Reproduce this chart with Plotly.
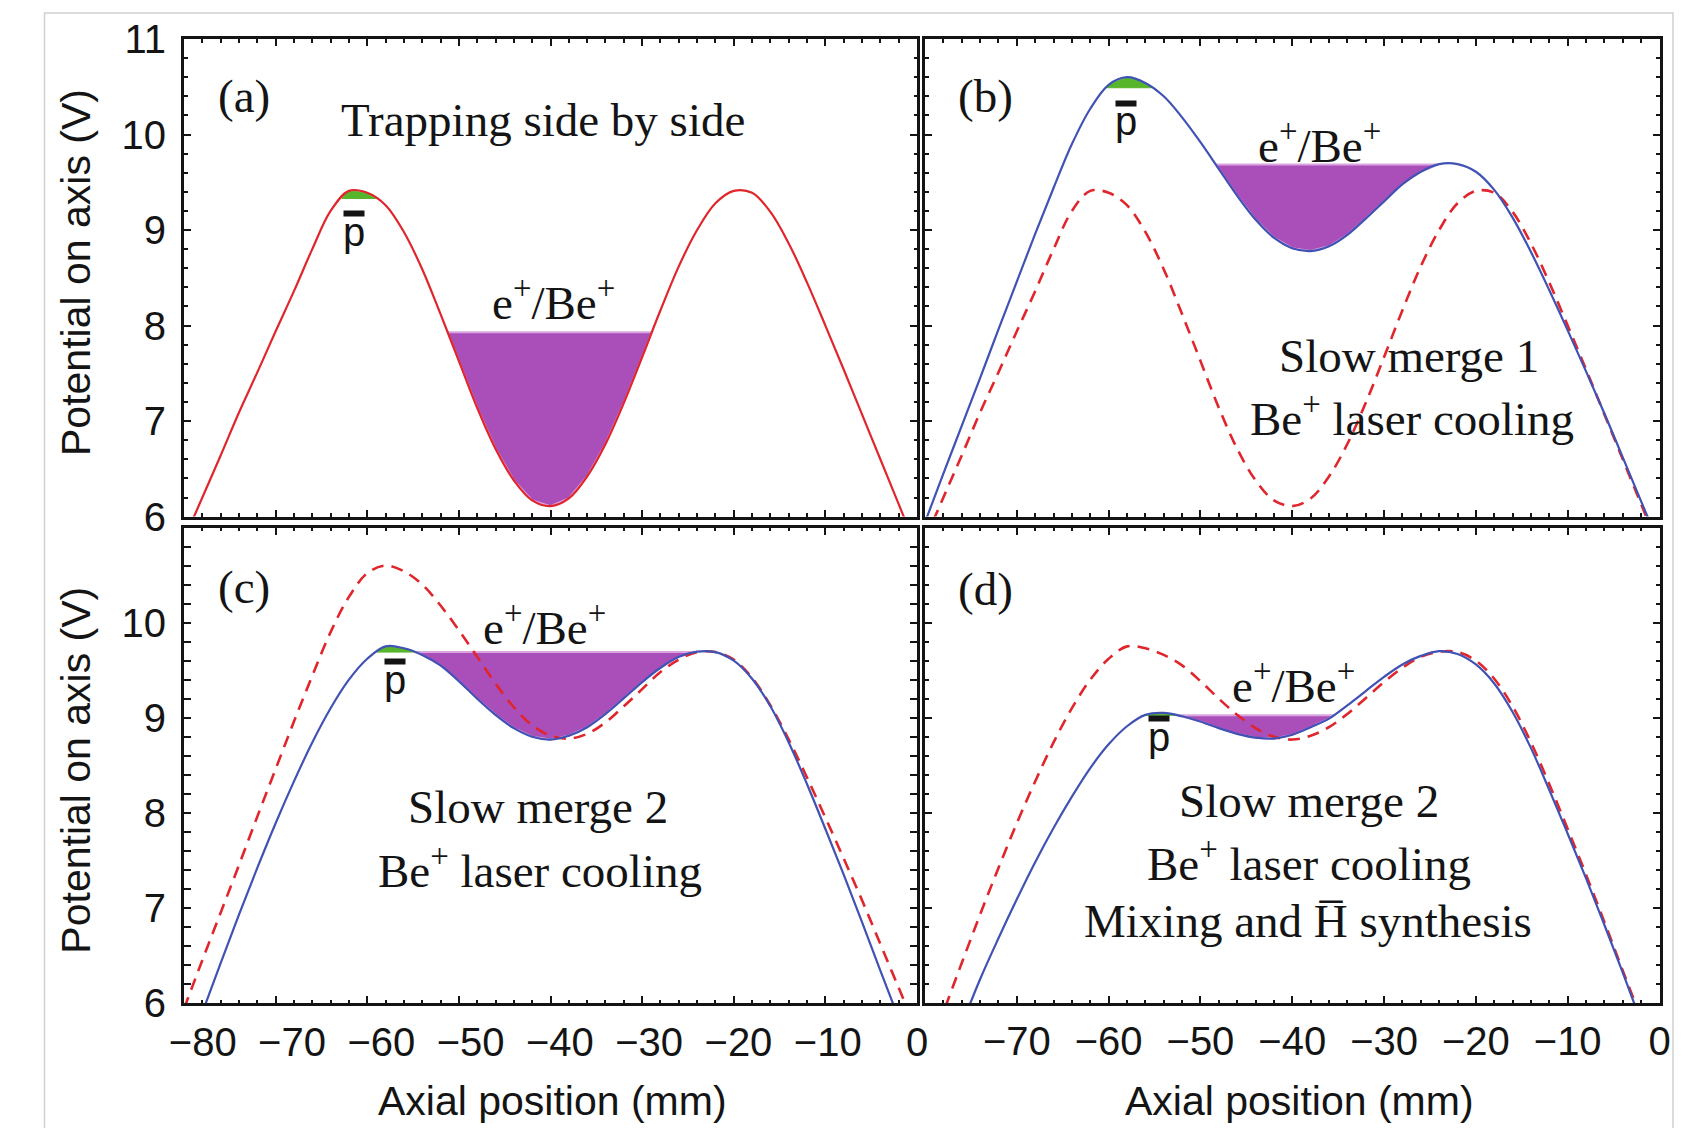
import numpy as np
import plotly.graph_objects as go

# Axial position along the trap axis (mm)
axial_mm = list(range(-80, 1, 2))

# On-axis potential (V) for the four trap configurations
v_side_by_side = [5.76, 6.20, 6.64, 7.09, 7.51, 7.94, 8.36, 8.80, 9.20, 9.41,
                  9.39, 9.26, 8.98, 8.59, 8.12, 7.63, 7.14, 6.71, 6.38, 6.17,
                  6.11, 6.19, 6.42, 6.76, 7.19, 7.67, 8.16, 8.62, 9.00, 9.28,
                  9.41, 9.39, 9.19, 8.86, 8.45, 8.00, 7.54, 7.07, 6.60, 6.13, 5.66]
v_merge1 = [5.94, 6.45, 6.95, 7.45, 7.96, 8.46, 8.96, 9.44, 9.90, 10.27,
            10.52, 10.60, 10.54, 10.40, 10.18, 9.92, 9.64, 9.36, 9.11, 8.92,
            8.81, 8.78, 8.83, 8.95, 9.12, 9.30, 9.48, 9.61, 9.69, 9.69,
            9.61, 9.42, 9.13, 8.77, 8.37, 7.95, 7.52, 7.08, 6.62, 6.16, 5.70]
v_merge2 = [5.36, 5.90, 6.42, 6.93, 7.42, 7.89, 8.33, 8.74, 9.10, 9.40,
            9.62, 9.75, 9.73, 9.66, 9.55, 9.385, 9.20, 9.03, 8.89, 8.80,
            8.77, 8.81, 8.90, 9.04, 9.205, 9.375, 9.525, 9.64, 9.694, 9.69,
            9.60, 9.41, 9.12, 8.74, 8.30, 7.83, 7.35, 6.85, 6.34, 5.84, 5.34]
v_mixing = [4.80, 5.28, 5.77, 6.25, 6.68, 7.09, 7.48, 7.84, 8.17, 8.47,
            8.72, 8.91, 9.03, 9.05, 9.015, 8.96, 8.89, 8.83, 8.79, 8.78,
            8.82, 8.90, 8.99, 9.13, 9.28, 9.43, 9.56, 9.65, 9.70, 9.67,
            9.56, 9.36, 9.06, 8.68, 8.24, 7.78, 7.31, 6.82, 6.32, 5.80, 5.30]

# Filling levels (V) of the antiproton and e+/Be+ clouds in each panel
pbar_level = [9.33, 10.49, 9.69, 9.025]
plasma_level = [7.93, 9.685, 9.69, 9.025]
# x-windows (mm) in which each cloud sits
pbar_window = [(-70, -50), (-66, -50), (-64, -52), (-60, -50)]
plasma_window = [(-58, -22), (-52, -20), (-56, -20), (-54, -30)]

panel_tags = ["(a)", "(b)", "(c)", "(d)"]

RED = "#e0262c"
BLUE = "#4052b4"
PURPLE = "#aa4fba"
GREEN = "#56b52a"
INK = "#141414"
SANS = "Liberation Sans"
SERIF = "Liberation Serif"

W, H = 1696, 1128
xdom = [[184 / W, 917 / W], [925 / W, 1659.5 / W]]
ydom = [[1 - 516.6 / H, 1 - 39 / H], [1 - 1003 / H, 1 - 527.5 / H]]


def cloud_outline(x, v, level, lo, hi):
    """Polygon between the potential curve and a flat filling level."""
    x = np.asarray(x, float)
    v = np.asarray(v, float)
    d = v - level
    cross = []
    for i in range(len(x) - 1):
        if lo <= x[i] and x[i + 1] <= hi and d[i] * d[i + 1] < 0:
            cross.append(x[i] - d[i] * (x[i + 1] - x[i]) / (d[i + 1] - d[i]))
    x1, x2 = cross[0], cross[1]
    inside = (x > x1) & (x < x2)
    px = [x1, *x[inside], x2, x1]
    py = [level, *v[inside], level, level]
    return px, py


fig = go.Figure()

# (solid curve, colour, dashed previous stage)
panels = [
    (v_side_by_side, RED, None),
    (v_merge1, BLUE, v_side_by_side),
    (v_merge2, BLUE, v_merge1),
    (v_mixing, BLUE, v_merge2),
]

for k, (solid, color, previous) in enumerate(panels):
    xa = "x" if k == 0 else f"x{k + 1}"
    ya = "y" if k == 0 else f"y{k + 1}"
    gx, gy = cloud_outline(axial_mm, solid, pbar_level[k], *pbar_window[k])
    fig.add_trace(go.Scatter(x=gx, y=gy, mode="lines", fill="toself",
                             fillcolor=GREEN, line=dict(color=GREEN, width=1),
                             xaxis=xa, yaxis=ya, hoverinfo="skip", showlegend=False))
    px_, py_ = cloud_outline(axial_mm, solid, plasma_level[k], *plasma_window[k])
    fig.add_trace(go.Scatter(x=px_, y=py_, mode="lines", fill="toself",
                             fillcolor=PURPLE, line=dict(color="#d9a6e0", width=2),
                             xaxis=xa, yaxis=ya, hoverinfo="skip", showlegend=False))
    if previous is not None:
        fig.add_trace(go.Scatter(x=axial_mm, y=previous, mode="lines",
                                 line=dict(color=RED, width=2.6, dash="12px,8px",
                                           shape="spline"),
                                 xaxis=xa, yaxis=ya, showlegend=False))
    fig.add_trace(go.Scatter(x=axial_mm, y=solid, mode="lines",
                             line=dict(color=color, width=2.2, shape="spline"),
                             xaxis=xa, yaxis=ya, showlegend=False))

# helper trace so the relabelled bottom-left axis is drawn
fig.add_trace(go.Scatter(x=[None], y=[None], xaxis="x5", yaxis="y3",
                         showlegend=False, hoverinfo="skip"))

frame = dict(showline=True, linecolor=INK, linewidth=3, mirror="allticks",
             ticks="inside", ticklen=7, tickwidth=2, tickcolor=INK,
             showgrid=False, zeroline=False, automargin=False,
             tickfont=dict(family=SANS, size=40, color=INK))

for k in range(4):
    col, row = k % 2, k // 2
    xkey = "xaxis" if k == 0 else f"xaxis{k + 1}"
    ykey = "yaxis" if k == 0 else f"yaxis{k + 1}"
    yname = "y" if k == 0 else f"y{k + 1}"
    xname = "x" if k == 0 else f"x{k + 1}"
    xax = dict(frame, domain=xdom[col], anchor=yname, range=[-80, 0],
               tickvals=list(range(-80, 1, 10)),
               minor=dict(ticks="inside", ticklen=3.5, tickwidth=1.5,
                          tickcolor=INK, dtick=2, tick0=0, showgrid=False),
               showticklabels=(k == 3), ticklabelstandoff=1)
    if k == 3:
        xax["tickvals"] = list(range(-70, 1, 10))
    yax = dict(frame, domain=ydom[row], anchor=xname, range=[6, 11],
               tickvals=list(range(6, 12)) if row == 0 else list(range(6, 11)),
               minor=dict(ticks="inside", ticklen=3.5, tickwidth=1.5,
                          tickcolor=INK, dtick=0.2, tick0=6, showgrid=False),
               showticklabels=(col == 0), ticklabelstandoff=7)
    fig.layout[xkey] = xax
    fig.layout[ykey] = yax

# tick labels of the bottom-left panel
fig.layout["xaxis5"] = dict(overlaying="x3", anchor="y3", side="bottom",
                            range=[-82.1, 0], tickvals=list(range(-80, 1, 10)),
                            showline=False, ticks="", showgrid=False, zeroline=False,
                            automargin=False,
                            tickfont=dict(family=SANS, size=40, color=INK),
                            ticklabelstandoff=12)

ann = []


def serif(text, k, x, y, size=47):
    xa = "x" if k == 0 else f"x{k + 1}"
    ya = "y" if k == 0 else f"y{k + 1}"
    ann.append(dict(text=text, x=x, y=y, xref=xa, yref=ya, showarrow=False,
                    xanchor="center", yanchor="middle",
                    font=dict(family=SERIF, size=size, color=INK)))


def pbar(k, x, y):
    xa = "x" if k == 0 else f"x{k + 1}"
    ya = "y" if k == 0 else f"y{k + 1}"
    ann.append(dict(text="p", x=x, y=y, xref=xa, yref=ya, showarrow=False,
                    xanchor="center", yanchor="middle",
                    font=dict(family=SANS, size=40, color=INK)))
    ann.append(dict(text=" ", x=x, y=y, xref=xa, yref=ya, showarrow=False,
                    xanchor="center", yanchor="middle", yshift=18,
                    width=20, height=5, bgcolor=INK, borderpad=0,
                    font=dict(size=2)))


tag_pos = [(-73.5, 10.40), (-73.4, 10.40), (-73.5, 10.37), (-73.4, 10.35)]
for k in range(4):
    serif(panel_tags[k], k, *tag_pos[k])

ion = "e<sup>+</sup>/Be<sup>+</sup>"
cooling = "Be<sup>+</sup> laser cooling"

serif("Trapping side by side", 0, -40.8, 10.15)
serif(ion, 0, -39.7, 8.27)
pbar(0, -61.5, 8.98)

serif(ion, 1, -37.0, 9.92)
serif("Slow merge 1", 1, -27.3, 7.68)
serif(cooling, 1, -27.0, 7.06)
pbar(1, -58.1, 10.14)

serif(ion, 2, -40.7, 9.98)
serif("Slow merge 2", 2, -41.4, 8.06)
serif(cooling, 2, -41.2, 7.43)
pbar(2, -57.0, 9.40)

serif(ion, 3, -39.9, 9.37)
serif("Slow merge 2", 3, -38.2, 8.12)
serif(cooling, 3, -38.2, 7.50)
serif("Mixing and H\u0305 synthesis", 3, -38.3, 6.86)
pbar(3, -54.5, 8.80)

# axis titles
for yc in (0.758, 0.3168):
    ann.append(dict(text="Potential on axis (V)", x=76 / W, y=yc, xref="paper",
                    yref="paper", showarrow=False, textangle=-90,
                    xanchor="center", yanchor="middle",
                    font=dict(family=SANS, size=41, color=INK)))
for xc in (552.7 / W, 1299 / W):
    ann.append(dict(text="Axial position (mm)", x=xc, y=1 - 1101 / H, xref="paper",
                    yref="paper", showarrow=False, xanchor="center", yanchor="middle",
                    font=dict(family=SANS, size=41, color=INK)))

fig.update_layout(
    width=W, height=H, autosize=False,
    margin=dict(l=0, r=0, t=0, b=0, autoexpand=False),
    paper_bgcolor="white", plot_bgcolor="white",
    annotations=ann,
    shapes=[dict(type="rect", xref="paper", yref="paper",
                 x0=44.5 / W, x1=1673 / W, y0=-0.05, y1=1 - 13 / H,
                 line=dict(color="#cfcfcf", width=1.5), layer="below")],
)

fig.write_html("out.html")
